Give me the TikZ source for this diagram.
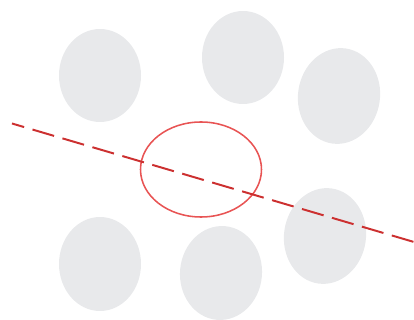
\documentclass[tikz,border=0pt]{standalone}
\usetikzlibrary{calc}
\definecolor{blobgray}{RGB}{232,233,235}
\definecolor{ringred}{RGB}{232,84,84}
\definecolor{linered}{RGB}{204,48,48}

\begin{document}
\begin{tikzpicture}[x=0.025cm, y=-0.025cm]
  % pixel grid, origin top left
  \useasboundingbox (0,0) rectangle (414,320);
  % grey blobs, top row then bottom row
  \fill[blobgray] (100,75.5) ellipse [x radius=41, y radius=46.5];
  \fill[blobgray] (243,57.5) ellipse [x radius=41, y radius=46.5];
  \fill[blobgray, rotate around={-8:(339,96)}] (339,96) ellipse [x radius=41, y radius=48];
  \fill[blobgray] (100,264) ellipse [x radius=41, y radius=47];
  \fill[blobgray, rotate around={-5:(221,273)}] (221,273) ellipse [x radius=41, y radius=47];
  \fill[blobgray, rotate around={-8:(325,236)}] (325,236) ellipse [x radius=41, y radius=48];
  % red ring
  \coordinate (ringC) at (201,169.5);
  \draw[ringred, line width=1.1pt] (ringC) ellipse [x radius=60.5, y radius=47.5];
  % dashed split line
  \coordinate (lineL) at (12,123.5);
  \coordinate (lineR) at (414,242);
  \draw[linered, line width=1.4pt, dash pattern=on 16pt off 6.2pt, dash phase=7pt] (lineL) -- (lineR);
\end{tikzpicture}
\end{document}
